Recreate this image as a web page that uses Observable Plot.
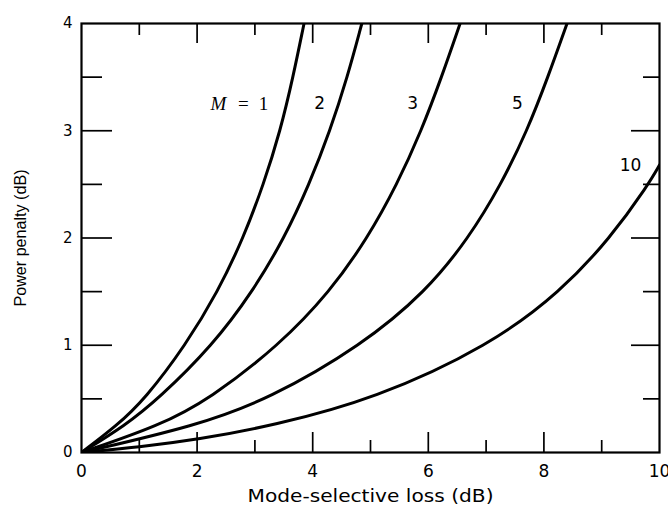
<!DOCTYPE html>
<html>
<head>
<meta charset="utf-8">
<script src="https://cdn.jsdelivr.net/npm/d3@7"></script>
<script src="https://cdn.jsdelivr.net/npm/@observablehq/plot@0.6"></script>
<style>
  html, body { margin: 0; padding: 0; background: white; }
</style>
</head>
<body>
<div id="chart"></div>
<script>
// Power penalty levels (dB) at which the curves for M = 1..5 were read
const penaltyLevels = [0, 0.25, 0.5, 1, 1.5, 2, 2.5, 3, 3.5, 4];
// Mode-selective loss (dB) for each curve at those penalty levels
const lossM1 = [0, 0.61, 1.10, 1.80, 2.36, 2.80, 3.15, 3.44, 3.66, 3.85];
const lossM2 = [0, 0.75, 1.33, 2.27, 2.96, 3.51, 3.94, 4.30, 4.60, 4.85];
const lossM3 = [0, 1.35, 2.22, 3.42, 4.30, 4.95, 5.46, 5.88, 6.23, 6.55];
const lossM5 = [0, 1.99, 3.25, 4.85, 5.96, 6.70, 7.26, 7.71, 8.07, 8.40];
// M = 10 curve (leaves the frame on the right)
const lossM10    = [0, 1, 2, 3.31, 5.08, 7.07, 8.29, 9.15, 9.81, 10];
const penaltyM10 = [0, 0.05, 0.12, 0.25, 0.5, 1.0, 1.5, 2.0, 2.5, 2.68];

// Curve labels
const labelText = ["2", "3", "5", "10"];
const labelX = [4.12, 5.73, 7.54, 9.50];
const labelY = [3.25, 3.25, 3.25, 2.68];
const mText = ["M"], mX = [2.37];
const eqText = ["=", "1"], eqX = [2.80, 3.15];
const mLabelY = 3.25;

// Axis ticks
const xTickLabels = [0, 2, 4, 6, 8, 10];
const xMajor = [2, 4, 6, 8];
const xMinor = [1, 3, 5, 7, 9];
const yTickLabels = [0, 1, 2, 3, 4];
const yMajor = [1, 2, 3];
const yMinor = [0.5, 1.5, 2.5, 3.5];

const xLabel = "Mode-selective loss (dB)";
const yLabel = "Power penalty (dB)";

const rows = [];
[["1", lossM1], ["2", lossM2], ["3", lossM3], ["5", lossM5]].forEach(([m, arr]) => {
  arr.forEach((v, i) => rows.push({M: m, loss: v, penalty: penaltyLevels[i]}));
});
lossM10.forEach((v, i) => rows.push({M: "10", loss: v, penalty: penaltyM10[i]}));

const W = 668, H = 505;
const mL = 81, mR = 9, mT = 23, mB = 53;
const innerW = W - mL - mR, innerH = H - mT - mB;

const chart = Plot.plot({
  width: W,
  height: H,
  marginLeft: mL,
  marginRight: mR,
  marginTop: mT,
  marginBottom: mB,
  x: {domain: [0, 10]},
  y: {domain: [0, 4]},
  style: {fontFamily: "DejaVu Sans", background: "white", color: "black", overflow: "visible"},
  marks: [
    Plot.line(rows, {x: "loss", y: "penalty", z: "M", curve: "basis", stroke: "black", strokeWidth: 3, clip: true}),
    // inward ticks
    Plot.tickX(xMajor, {insetTop: innerH - 20, stroke: "black", strokeWidth: 1.7}),
    Plot.tickX(xMinor, {insetTop: innerH - 12, stroke: "black", strokeWidth: 1.7}),
    Plot.tickX(xMajor, {insetBottom: innerH - 20, stroke: "black", strokeWidth: 1.7}),
    Plot.tickX(xMinor, {insetBottom: innerH - 12, stroke: "black", strokeWidth: 1.7}),
    Plot.tickY(yMajor, {insetRight: innerW - 31, stroke: "black", strokeWidth: 1.7}),
    Plot.tickY(yMinor, {insetRight: innerW - 21, stroke: "black", strokeWidth: 1.7}),
    Plot.tickY(yMajor, {insetLeft: innerW - 28, stroke: "black", strokeWidth: 1.7}),
    Plot.tickY(yMinor, {insetLeft: innerW - 16, stroke: "black", strokeWidth: 1.7}),
    Plot.frame({stroke: "black", strokeWidth: 2.2}),
    Plot.axisX({ticks: xTickLabels, tickSize: 0, tickPadding: 12, fontSize: 17, tickFormat: d3.format("d"), label: null}),
    Plot.axisY({ticks: yTickLabels, tickSize: 0, tickPadding: 9, fontSize: 15, tickFormat: d3.format("d"), label: null}),
    // curve labels
    Plot.text(labelText, {x: labelX, y: labelY, text: d => d, fontSize: 17, fill: "black"}),
    Plot.text(mText, {x: mX, y: mLabelY, text: d => d, fontFamily: "Liberation Serif", fontStyle: "italic", fontSize: 19, fill: "black"}),
    Plot.text(eqText, {x: eqX, y: mLabelY, text: d => d, fontFamily: "Liberation Serif", fontSize: 19, fill: "black"}),
    // axis titles
    Plot.text([xLabel], {frameAnchor: "bottom", dy: 49, lineAnchor: "bottom", text: d => d, fontSize: 17, fill: "black"}),
    Plot.text([yLabel], {frameAnchor: "left", dx: -61, rotate: -90, textAnchor: "middle", text: d => d, fontSize: 16, fill: "black", fontFamily: "Liberation Sans"})
  ]
});

document.getElementById("chart").appendChild(chart);

// compress the axis titles to the reference's lengths
d3.select(chart).selectAll("text").each(function() {
  const t = this.textContent;
  if (t === yLabel) { d3.select(this).attr("textLength", 137).attr("lengthAdjust", "spacingAndGlyphs"); }
  if (t === xLabel) { d3.select(this).attr("textLength", 246).attr("lengthAdjust", "spacingAndGlyphs"); }
});
</script>
</body>
</html>
